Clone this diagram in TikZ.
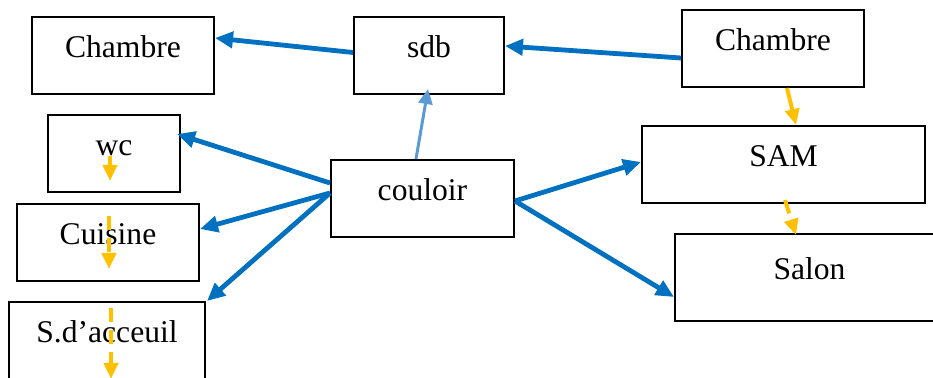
\documentclass[tikz,border=0pt]{standalone}
\usepackage{fontspec}
\setmainfont{Liberation Serif}
\usetikzlibrary{arrows.meta}
\definecolor{linkblue}{HTML}{0070C0}
\definecolor{lightblue}{HTML}{5B9BD5}
\definecolor{flowgold}{HTML}{FFC000}
\tikzset{
  room/.style={draw,line width=1pt,anchor=north west,
    inner xsep=0pt,inner ysep=0pt,
    text height=20.5pt,text depth=18pt,
    font=\fontsize{15.8}{19}\selectfont},
  link/.style={-{Triangle[length=9pt,width=8pt]},draw=linkblue,line width=2.4pt},
  thinlink/.style={-{Triangle[length=7.5pt,width=7pt]},draw=lightblue,line width=1.5pt},
  flow/.style={-{Triangle[length=8pt,width=7pt]},draw=flowgold,line width=2pt},
  dashflow/.style={flow,dash pattern=on 7pt off 4pt}
}

\begin{document}
\begin{tikzpicture}[x=0.5pt,y=-0.5pt]
  \clip (0,0) rectangle (933,378);
  \node[room,minimum width=91pt] (chamL) at (31,16) {Chambre};
  \node[room,minimum width=75pt] (sdb) at (353,16) {sdb};
  \node[room,minimum width=91pt] (chamR) at (681,9) {Chambre};
  \node[room,minimum width=141.5pt] (sam) at (641,125) {SAM};
  \node[room,minimum width=134.5pt,text height=23pt,text depth=20.5pt] (salon) at (674,233) {Salon};
  \node[room,minimum width=66pt] (wc) at (47,114) {wc};
  \node[room,minimum width=91pt] (cuis) at (16,203) {Cuisine};
  \node[room,minimum width=98pt,text depth=25pt] (sacc) at (8,301) {S.d’acceuil};
  \node[room,minimum width=91.5pt] (coul) at (330,159) {couloir};

  \draw[link] ([yshift=1.5pt]sdb.west) -- ([yshift=8.75pt]chamL.east);
  \draw[link] ([yshift=-4.75pt]chamR.west) -- ([yshift=4.75pt]sdb.east);
  \draw[link] ([yshift=7.75pt]coul.west) -- ([xshift=-2pt,yshift=9.75pt]wc.east);
  \draw[link] ([yshift=2.75pt]coul.west) -- ([yshift=6.75pt]cuis.east);
  \draw[link] ([yshift=2.75pt]coul.west) -- ([xshift=0.5pt]sacc.north east);
  \draw[link] ([yshift=-1.25pt]coul.east) -- ([yshift=1.25pt]sam.west);
  \draw[link] ([yshift=-1.25pt]coul.east) -- ([yshift=-9.75pt]salon.west);
  \draw[thinlink] ([xshift=-3.25pt]coul.north) -- ([xshift=-0.5pt,yshift=3pt]sdb.south);

  \draw[dashflow] ([xshift=-2pt,yshift=-1.25pt]wc.center) -- ([xshift=-2pt,yshift=-13.75pt]wc.center);
  \draw[dashflow] ([xshift=0.5pt,yshift=13.25pt]cuis.center) -- ([xshift=0.5pt,yshift=-13.25pt]cuis.center);
  \draw[dashflow] ([xshift=2pt,yshift=19.75pt]sacc.center) -- ([xshift=2pt,yshift=-15.75pt]sacc.center);
  \draw[flow] ([xshift=7pt]chamR.south) -- ([xshift=6.25pt]sam.north);
  \draw[dashflow] ([xshift=0.75pt,yshift=2pt]sam.south) -- ([xshift=-6.75pt,yshift=-1pt]salon.north);
\end{tikzpicture}
\end{document}
